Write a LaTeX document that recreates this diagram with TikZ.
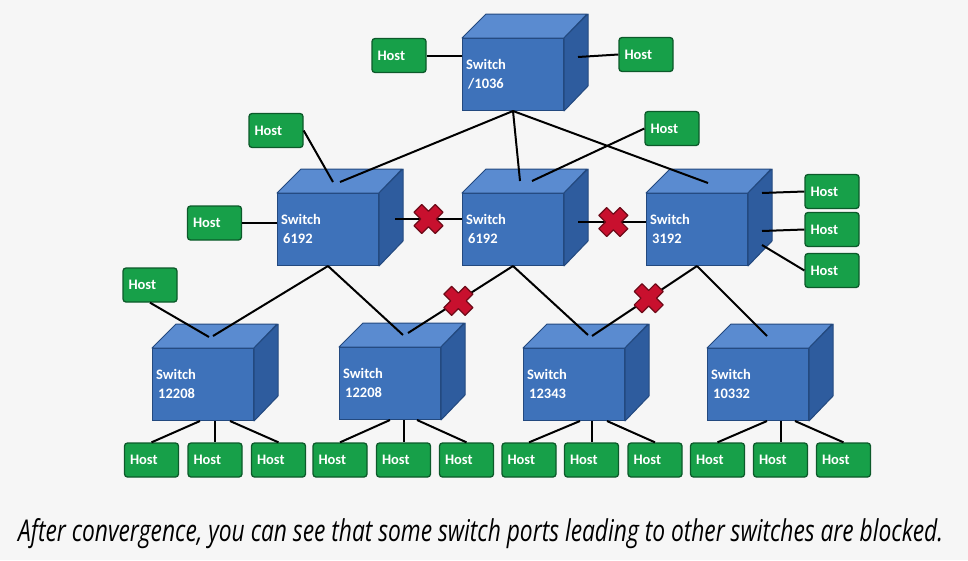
\documentclass[tikz,border=0pt]{standalone}
\usepackage{fontspec}
\usetikzlibrary{calc}
\setmainfont{Carlito}
\newfontfamily\capfont{Open Sans}
\definecolor{bg}{HTML}{F6F6F6}
\definecolor{cfront}{HTML}{3E72BA}
\definecolor{ctop}{HTML}{5A8BD0}
\definecolor{cside}{HTML}{2E5C9E}
\definecolor{cedge}{HTML}{23497F}
\definecolor{hfill}{HTML}{17A049}
\definecolor{hedge}{HTML}{0C5A2A}
\definecolor{xred}{HTML}{C8102E}
\definecolor{xedge}{HTML}{6E0A18}
\tikzset{
 host/.style={draw=hedge, fill=hfill, line width=1.3pt, rounded corners=3pt, minimum height=34pt,
   text width=43pt, inner xsep=5.5pt, inner ysep=0pt, align=left, text=white,
   font=\bfseries\fontsize{14.5}{15}\selectfont},
 front/.style={draw=cedge, fill=cfront, line width=1pt, minimum width=101pt, minimum height=72pt,
   inner sep=0pt, anchor=north west},
 face/.style={draw=cedge, line width=1pt, line join=round},
 wire/.style={line width=2pt, draw=black},
 lbl/.style={text=white, font=\bfseries\fontsize{14.5}{15}\selectfont, anchor=west, inner sep=0pt},
 xmark/.pic={\draw[fill=xred, draw=xedge, line width=1.2pt, line join=round, rotate=45]
   (-5.5,15)--(5.5,15)--(5.5,5.5)--(15,5.5)--(15,-5.5)--(5.5,-5.5)--(5.5,-15)--(-5.5,-15)
   --(-5.5,-5.5)--(-15,-5.5)--(-15,5.5)--(-5.5,5.5)--cycle;}
}
\newcommand{\swbox}[5]{%
 \node[front] (#1) at (#2,#3) {};
 \path[face, fill=ctop] (#1.north west) -- ++(24,-24) -- ++(101,0) -- (#1.north east) -- cycle;
 \path[face, fill=cside] (#1.north east) -- ++(24,-24) -- ++(0,72) -- (#1.south east) -- cycle;
 \node[lbl] (#1l1) at ($(#1.north west)+(4,26)$) {#4};
 \node[lbl] (#1l2) at ($(#1.north west)+(6,46)$) {#5};
}
\begin{document}
\begin{tikzpicture}[x=1pt,y=-1pt]
\fill[bg] (0,0) rectangle (968,560);
\useasboundingbox (0,0) rectangle (968,560);

% switches
\swbox{s0}{462}{38}{Switch}{/1036}
\swbox{s1}{277}{193}{Switch}{6192}
\swbox{s2}{462}{193}{Switch}{6192}
\swbox{s3}{646}{193}{Switch}{3192}
\swbox{b1}{152}{348}{Switch}{12208}
\swbox{b2}{339}{347}{Switch}{12208}
\swbox{b3}{523}{348}{Switch}{12343}
\swbox{b4}{707}{348}{Switch}{10332}

% hosts
\node[host] (htl) at (399,55.5) {Host};
\node[host] (htr) at (646,54.5) {Host};
\node[host] (ha) at (276,130.5) {Host};
\node[host] (hb) at (672,128.5) {Host};
\node[host] (hc) at (214.5,223) {Host};
\node[host] (hd1) at (832,191.5) {Host};
\node[host] (hd2) at (832,229.5) {Host};
\node[host] (hd3) at (832,270.5) {Host};
\node[host] (he) at (150,285) {Host};
\foreach \i/\x in {1/151.5,2/215,3/278.5,4/340,5/403.5,6/466.5,7/529,8/591.5,9/655,10/717.5,11/780.5,12/843.5}
  \node[host] (bh\i) at (\x,460) {Host};

% wires, top
\draw[wire] (htl.east) -- (htl.east -| s0.west);
\draw[wire] ($(s0.north east)+(14,19)$) -- (htr.west);
\draw[wire] (s0.south) -- ($(s1.north west)+(63,-11)$);
\draw[wire] (s0.south) -- ($(s2.north west)+(58,-12)$);
\draw[wire] (s0.south) -- ($(s3.north west)+(62,-10)$);
\draw[wire] (ha.east) -- ($(s1.north west)+(56,-11)$);
\draw[wire] (hb.west) -- ($(s2.north west)+(70,-12)$);

% middle row
\draw[wire] (hc.east) -- (hc.east -| s1.west);
\coordinate (p1) at ($(s1.north west)+(118,26)$);
\draw[wire] (p1) -- (p1 -| s2.west);
\coordinate (p2) at ($(s2.north west)+(116,29)$);
\draw[wire] (p2) -- (p2 -| s3.west);
\draw[wire] ($(s3.north west)+(116,0)$) -- (hd1.west);
\draw[wire] ($(s3.north west)+(116,38)$) -- (hd2.west);
\draw[wire] ($(s3.north west)+(116,52)$) -- (hd3.west);

% middle to bottom
\draw[wire] (s1.south) -- ($(b1.north west)+(61,-12)$);
\draw[wire] (s1.south) -- ($(b2.north west)+(64,-12)$);
\draw[wire] (he.south) -- ($(b1.north west)+(57,-11)$);
\coordinate (q1) at ($(b2.north west)+(69,-14)$);
\draw[wire] (s2.south) -- (q1);
\draw[wire] (s2.south) -- ($(b3.north west)+(65,-13)$);
\coordinate (q2) at ($(b3.north west)+(69,-12)$);
\draw[wire] (s3.south) -- (q2);
\draw[wire] (s3.south) -- ($(b4.north west)+(60,-12)$);

% bottom cubes to hosts
\draw[wire] ($(b1.south west)+(48,0)$) -- (bh1.north);
\draw[wire] (bh2.north |- b1.south) -- (bh2.north);
\draw[wire] ($(b1.south west)+(78,0)$) -- (bh3.north);
\draw[wire] ($(b2.south west)+(51,0)$) -- (bh4.north);
\draw[wire] (bh5.north |- b2.south) -- (bh5.north);
\draw[wire] ($(b2.south west)+(78,0)$) -- (bh6.north);
\draw[wire] ($(b3.south west)+(57,0)$) -- (bh7.north);
\draw[wire] (bh8.north |- b3.south) -- (bh8.north);
\draw[wire] ($(b3.south west)+(84,0)$) -- (bh9.north);
\draw[wire] ($(b4.south west)+(60,0)$) -- (bh10.north);
\draw[wire] (bh11.north |- b4.south) -- (bh11.north);
\draw[wire] ($(b4.south west)+(88,0)$) -- (bh12.north);

% blocked marks
\pic at ($(p1)!0.5!(p1 -| s2.west)$) {xmark};
\pic at ($(p2)!0.52!(p2 -| s3.west)$) {xmark};
\pic at ($(s2.south)!0.52!(q1)$) {xmark};
\pic at ($(s3.south)!0.46!(q2)$) {xmark};

% caption
\node[anchor=base west, inner sep=0pt] (cap) at (18,541)
 {\resizebox{925pt}{23pt}{\capfont\itshape After convergence, you can see that some switch ports leading to other switches are blocked.}};
\end{tikzpicture}
\end{document}
